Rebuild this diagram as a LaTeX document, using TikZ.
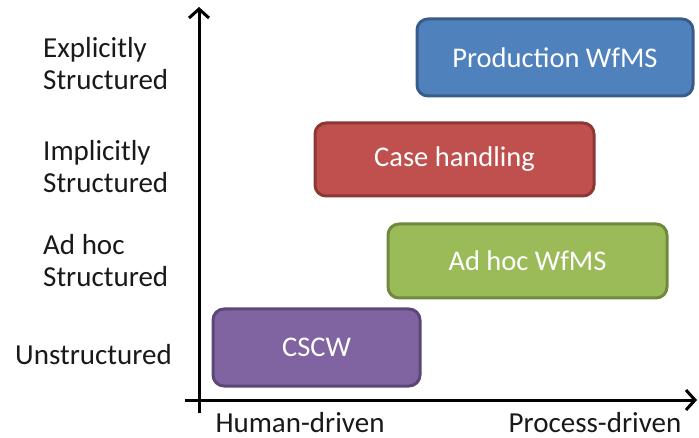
\documentclass[tikz,border=0pt]{standalone}
\usepackage{fontspec}
\setmainfont{Carlito}
\usetikzlibrary{arrows.meta}
\definecolor{blueF}{HTML}{4F81BD}\definecolor{blueD}{HTML}{385D8A}
\definecolor{redF}{HTML}{C0504D}\definecolor{redD}{HTML}{8C3836}
\definecolor{greenF}{HTML}{9BBB59}\definecolor{greenD}{HTML}{71893F}
\definecolor{purpleF}{HTML}{8064A2}\definecolor{purpleD}{HTML}{5C4776}
\tikzset{
  bar/.style={rounded corners=11pt, line width=3pt, text=white, inner sep=0pt,
    font=\fontsize{28.5}{32}\selectfont},
  level/.style={anchor=west, align=left, inner sep=0pt, text=black!90,
    font=\fontsize{29}{32}\selectfont},
  axislabel/.style={anchor=base, inner sep=0pt, text depth=0pt, text=black!90,
    font=\fontsize{29}{32}\selectfont},
  axis/.style={line width=3pt, -{Straight Barb[length=9pt,width=20pt,line width=3pt]}}
}
\begin{document}
\begin{tikzpicture}[x=1pt,y=-1pt]
\useasboundingbox (0,0) rectangle (699,438);
% axes
\coordinate (ybot) at (199,413);
\coordinate (ytop) at (199,7);
\coordinate (xleft) at (185,400);
\coordinate (xright) at (697,400);
\draw[axis] (ybot) -- (ytop);
\draw[axis] (xleft) -- (xright);
% category bars
\draw[bar, fill=blueF, draw=blueD] (417,19) rectangle node (prod) {Production WfMS} (693,96);
\draw[bar, fill=redF, draw=redD] (315,123) rectangle node (case) {Case handling} (594,196);
\draw[bar, fill=greenF, draw=greenD] (388,224) rectangle node (adhoc) {Ad hoc WfMS} (667,298);
\draw[bar, fill=purpleF, draw=purpleD] (213,309) rectangle node (cscw) {CSCW} (420,386);
% structure levels
\node[level] (expl) at (43,64) {Explicitly\\Structured};
\node[level] (impl) at (43,167) {Implicitly\\Structured};
\node[level] (adst) at (43,261) {Ad hoc\\Structured};
\node[level] (unst) at (15,355) {Unstructured};
% axis labels
\node[axislabel] (human) at (300,432) {Human-driven};
\node[axislabel] (process) at (595,432) {Process-driven};
\end{tikzpicture}
\end{document}
